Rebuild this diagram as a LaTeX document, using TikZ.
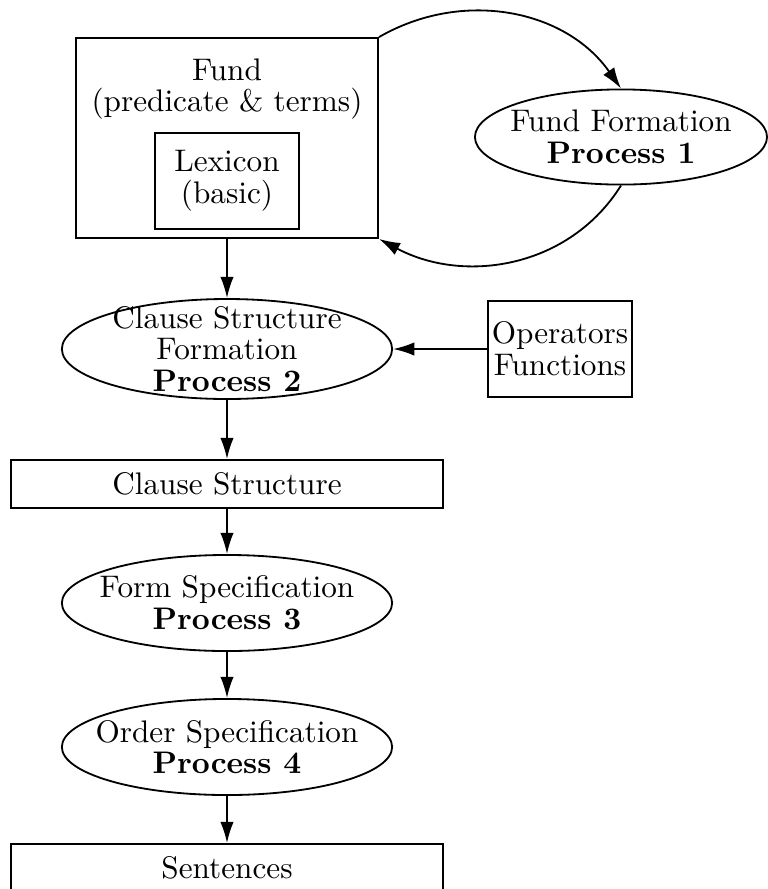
\documentclass[tikz,border=0pt]{standalone}
\usetikzlibrary{arrows.meta,shapes.geometric}
\begin{document}
\begin{tikzpicture}[x=0.33pt,y=0.33pt,
  every node/.style={font=\fontsize{10.3}{10.5}\selectfont, align=center, inner sep=0pt},
  box/.style={draw, line width=0.6pt, rectangle},
  proc/.style={draw, line width=0.6pt, ellipse, inner xsep=-6pt, inner ysep=-4pt},
  arr/.style={line width=0.6pt, -{Latex[length=7pt,width=4.4pt]}}]
\useasboundingbox (0,0) rectangle (767,-889);

% fund with the lexicon inside it
\node[box, minimum width=99.7pt, minimum height=66pt] (fund) at (227,-138) {};
\node (fundtxt) at (227,-89) {Fund\\(predicate \& terms)};
\node[box, minimum width=47.5pt, minimum height=31.7pt] (lex) at (227,-181) {Lexicon\\(basic)};

% process 1 loop
\node[proc, minimum width=96.4pt, minimum height=31.4pt] (ff) at (621,-137) {Fund Formation\\\textbf{Process 1}};

% main chain
\node[proc, minimum width=109pt, minimum height=33pt] (csf) at (227,-349) {Clause Structure\\Formation\\\textbf{Process 2}};
\node[box, minimum width=47.5pt, minimum height=31.7pt] (ops) at (560,-349) {Operators\\Functions};
\node[box, minimum width=142.6pt, minimum height=15.8pt] (cs) at (227,-484) {Clause Structure};
\node[proc, minimum width=109pt, minimum height=31.7pt] (fs) at (227,-603) {Form Specification\\\textbf{Process 3}};
\node[proc, minimum width=109pt, minimum height=31.7pt] (os) at (227,-747) {Order Specification\\\textbf{Process 4}};
\node[box, minimum width=142.6pt, minimum height=15.8pt] (sent) at (227,-868) {Sentences};

% connectors
\draw[arr] (fund.north east) to[out=30, in=125] (ff.north);
\draw[arr] (ff.south) to[out=-122, in=-28] (fund.south east);
\draw[arr] (fund) -- (csf);
\draw[arr] (ops) -- (csf);
\draw[arr] (csf) -- (cs);
\draw[arr] (cs) -- (fs);
\draw[arr] (fs) -- (os);
\draw[arr] (os) -- (sent);
\end{tikzpicture}
\end{document}
